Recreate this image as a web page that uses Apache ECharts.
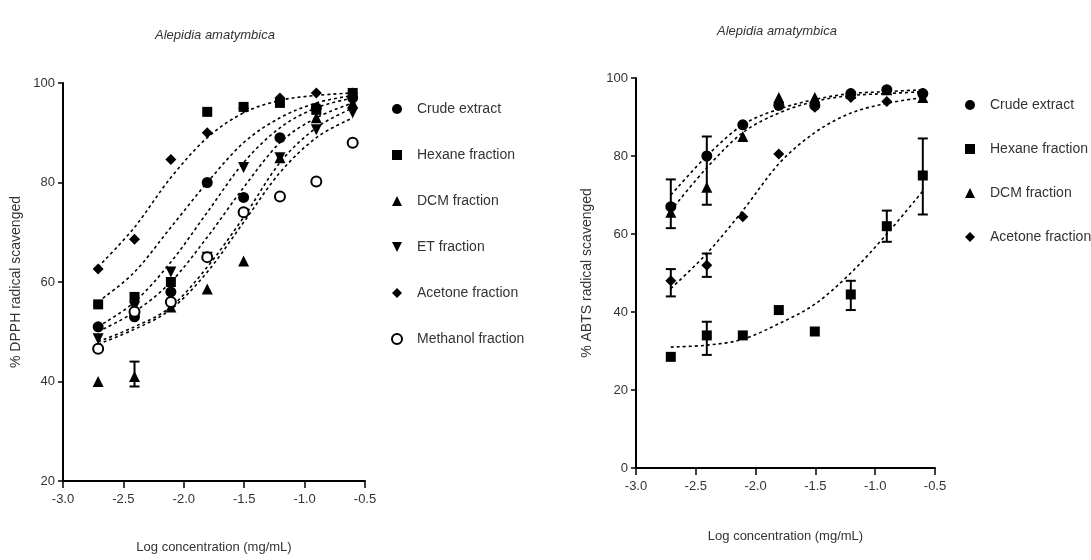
<!DOCTYPE html>
<html><head><meta charset="utf-8">
<script src="https://cdn.jsdelivr.net/npm/echarts@6/dist/echarts.min.js"></script>
<style>html,body{margin:0;padding:0;background:#fff}#c{width:1091px;height:560px}</style>
</head><body><div id="c"></div>
<script>
// log concentration (mg/mL) of the tested dilutions
const logX = [-2.709, -2.408, -2.107, -1.806, -1.505, -1.204, -0.903, -0.602];

// ---- DPPH panel (left) : observed points ----
const dpphCrude    = [51, 53, 58, 80, 77, 89, 95, 97];
const dpphHexane   = [55.5, 57, 60, 94.2, 95.2, 96, 94.6, 98];
const dpphDCM      = [40, 41, 55, 58.6, 64.2, 85, 93, 96];
const dpphET       = [48.6, 55, 62, 65, 83, 85, 90.6, 94];
const dpphAcetone  = [62.6, 68.6, 84.6, 90, 95, 97, 98, 98];
const dpphMethanol = [46.6, 54, 56, 65, 74, 77.2, 80.2, 88];
// fitted curves at the same x positions
const fitDpphCrude    = [51, 56, 64, 74, 84, 91, 95, 97];
const fitDpphHexane   = [56, 62, 71, 80, 88, 93, 96, 97.5];
const fitDpphDCM      = [48, 51, 55, 63, 73, 84, 91, 95];
const fitDpphET       = [50, 54, 60, 69, 79, 88, 93, 96];
const fitDpphAcetone  = [63, 71, 81, 89, 94, 96.5, 97.5, 98];
const fitDpphMethanol = [47.5, 50.5, 54.5, 62, 72, 82, 89, 93];
// error bars: [x, low, high]
const dpphErr = [[-2.408, 39, 44]];

// ---- ABTS panel (right) ----
const abtsCrude   = [67, 80, 88, 93, 93, 96, 97, 96];
const abtsHexane  = [28.5, 34, 34, 40.5, 35, 44.5, 62, 75];
const abtsDCM     = [65.6, 72, 85, 95, 95, 96, 97, 95];
const abtsAcetone = [48, 52, 64.4, 80.5, 92.5, 95, 94, 96];
const fitAbtsCrude   = [70, 80, 88, 92, 94.5, 96, 96.5, 97];
const fitAbtsHexane  = [31, 31.5, 33, 37, 42, 50, 60, 71];
const fitAbtsDCM     = [66, 77, 86, 91, 94, 95.5, 96, 96.5];
const fitAbtsAcetone = [46, 55, 66, 78, 86, 91, 93.5, 95];
const abtsErr = [[-2.709, 61.5, 74], [-2.408, 67.5, 85], [-2.709, 44, 51], [-2.408, 49, 55],
                 [-2.408, 29, 37.5], [-1.204, 40.5, 48], [-0.903, 58, 66], [-0.602, 65, 84.5]];

const FONT = "'Liberation Sans Narrow', 'Liberation Sans', Arial, sans-serif";
const TXT = '#333';
const invTri = 'path://M0,0 L10,0 L5,10 Z';

function pts(ys) { return logX.map((x, i) => [x, ys[i]]); }

function xAxisCfg(gi) {
  return {
    gridIndex: gi, type: 'value', min: -3, max: -0.5, interval: 0.5,
    name: 'Log concentration (mg/mL)', nameLocation: 'middle', nameGap: gi === 0 ? 60 : 62,
    nameTextStyle: { fontFamily: FONT, fontSize: 13, color: TXT },
    axisLine: { lineStyle: { color: '#000', width: 2 } },
    axisTick: { length: 7, lineStyle: { color: '#000', width: 1.5 } },
    axisLabel: { fontFamily: FONT, fontSize: 13, color: TXT, margin: 12, formatter: v => v.toFixed(1) },
    splitLine: { show: false }
  };
}
function yAxisCfg(gi, min, name) {
  return {
    gridIndex: gi, type: 'value', min: min, max: 100, interval: 20,
    name: name, nameLocation: 'middle', nameGap: gi === 0 ? 40 : 42, nameRotate: 90,
    nameTextStyle: { fontFamily: FONT, fontSize: 14, color: TXT },
    axisLine: { show: true, lineStyle: { color: '#000', width: 2 } },
    axisTick: { show: true, length: 5, lineStyle: { color: '#000', width: 1.5 } },
    axisLabel: { fontFamily: FONT, fontSize: 13, color: TXT, margin: 8 },
    splitLine: { show: false }
  };
}
function scatter(name, gi, ys, sym) {
  const empty = sym === 'emptyCircle';
  return { name: name, type: 'scatter', xAxisIndex: gi, yAxisIndex: gi, data: pts(ys),
    symbol: sym, symbolSize: sym === 'rect' ? 10 : (empty ? 10 : 11),
    itemStyle: empty ? { color: '#000', borderColor: '#000', borderWidth: 2.5, opacity: 1 }
                     : { color: '#000', opacity: 1 },
    z: 5 };
}
// fitted curves drawn as a spline through their read values, positioned with api.coord
function fitSeries(gi, curves) {
  return { type: 'custom', xAxisIndex: gi, yAxisIndex: gi, silent: true, z: 3,
    data: curves.map((c, i) => [logX[0], c[0], i]),
    encode: { x: 0, y: 1 },
    renderItem: function (params, api) {
      const ys = curves[api.value(2)];
      const p = logX.map((x, i) => api.coord([x, ys[i]]));
      let d = 'M' + p[0][0] + ' ' + p[0][1];
      for (let i = 0; i < p.length - 1; i++) {
        const p0 = p[Math.max(i - 1, 0)], p1 = p[i], p2 = p[i + 1], p3 = p[Math.min(i + 2, p.length - 1)];
        const c1 = [p1[0] + (p2[0] - p0[0]) / 6, p1[1] + (p2[1] - p0[1]) / 6];
        const c2 = [p2[0] - (p3[0] - p1[0]) / 6, p2[1] - (p3[1] - p1[1]) / 6];
        d += ' C' + c1[0] + ' ' + c1[1] + ' ' + c2[0] + ' ' + c2[1] + ' ' + p2[0] + ' ' + p2[1];
      }
      return { type: 'path', shape: { pathData: d },
        style: { stroke: '#000', fill: null, lineWidth: 1.6, lineDash: [3, 3] } };
    } };
}
function errSeries(gi, arr) {
  return { type: 'custom', xAxisIndex: gi, yAxisIndex: gi, data: arr, silent: true, z: 4,
    renderItem: function (params, api) {
      const lo = api.coord([api.value(0), api.value(1)]);
      const hi = api.coord([api.value(0), api.value(2)]);
      const w = 5;
      const st = { stroke: '#000', lineWidth: 2 };
      return { type: 'group', children: [
        { type: 'line', shape: { x1: lo[0], y1: lo[1], x2: hi[0], y2: hi[1] }, style: st },
        { type: 'line', shape: { x1: lo[0] - w, y1: lo[1], x2: lo[0] + w, y2: lo[1] }, style: st },
        { type: 'line', shape: { x1: hi[0] - w, y1: hi[1], x2: hi[0] + w, y2: hi[1] }, style: st }
      ]};
    } };
}

const chart = echarts.init(document.getElementById('c'), null, { renderer: 'canvas' });
chart.setOption({
  backgroundColor: '#fff',
  animation: false,
  color: ['#000'],
  title: [
    { text: 'Alepidia amatymbica', left: 210, top: 24, textAlign: 'center',
      textStyle: { fontFamily: FONT, fontSize: 13, fontStyle: 'italic', fontWeight: 'normal', color: TXT } },
    { text: 'Alepidia amatymbica', left: 772, top: 20, textAlign: 'center',
      textStyle: { fontFamily: FONT, fontSize: 13, fontStyle: 'italic', fontWeight: 'normal', color: TXT } }
  ],
  grid: [
    { left: 63, top: 83, width: 302, height: 398 },
    { left: 636, top: 78, width: 299, height: 390 }
  ],
  xAxis: [xAxisCfg(0), xAxisCfg(1)],
  yAxis: [yAxisCfg(0, 20, '% DPPH radical scavenged'), yAxisCfg(1, 0, '% ABTS radical scavenged')],
  legend: [
    { orient: 'vertical', left: 386, top: 97, itemGap: 32, itemWidth: 10, itemHeight: 10,
      textStyle: { fontFamily: FONT, fontSize: 14, color: TXT, padding: [0, 0, 0, 10] },
      data: [
        { name: 'Crude extract', icon: 'circle' },
        { name: 'Hexane fraction', icon: 'rect' },
        { name: 'DCM fraction', icon: 'triangle' },
        { name: 'ET fraction', icon: invTri },
        { name: 'Acetone fraction', icon: 'diamond' },
        { name: 'Methanol fraction', icon: 'emptyCircle' }
      ] },
    { orient: 'vertical', left: 960, top: 93, itemGap: 30, itemWidth: 10, itemHeight: 10,
      textStyle: { fontFamily: FONT, fontSize: 14, color: TXT, padding: [0, 0, 0, 10] },
      data: [
        { name: 'Crude extract ', icon: 'circle' },
        { name: 'Hexane fraction ', icon: 'rect' },
        { name: 'DCM fraction ', icon: 'triangle' },
        { name: 'Acetone fraction ', icon: 'diamond' }
      ] }
  ],
  series: [
    fitSeries(0, [fitDpphCrude, fitDpphHexane, fitDpphDCM, fitDpphET, fitDpphAcetone, fitDpphMethanol]),
    errSeries(0, dpphErr),
    scatter('Crude extract', 0, dpphCrude, 'circle'),
    scatter('Hexane fraction', 0, dpphHexane, 'rect'),
    scatter('DCM fraction', 0, dpphDCM, 'triangle'),
    scatter('ET fraction', 0, dpphET, invTri),
    scatter('Acetone fraction', 0, dpphAcetone, 'diamond'),
    scatter('Methanol fraction', 0, dpphMethanol, 'emptyCircle'),

    fitSeries(1, [fitAbtsCrude, fitAbtsHexane, fitAbtsDCM, fitAbtsAcetone]),
    errSeries(1, abtsErr),
    scatter('Crude extract ', 1, abtsCrude, 'circle'),
    scatter('Hexane fraction ', 1, abtsHexane, 'rect'),
    scatter('DCM fraction ', 1, abtsDCM, 'triangle'),
    scatter('Acetone fraction ', 1, abtsAcetone, 'diamond')
  ]
});
</script>
</body></html>
